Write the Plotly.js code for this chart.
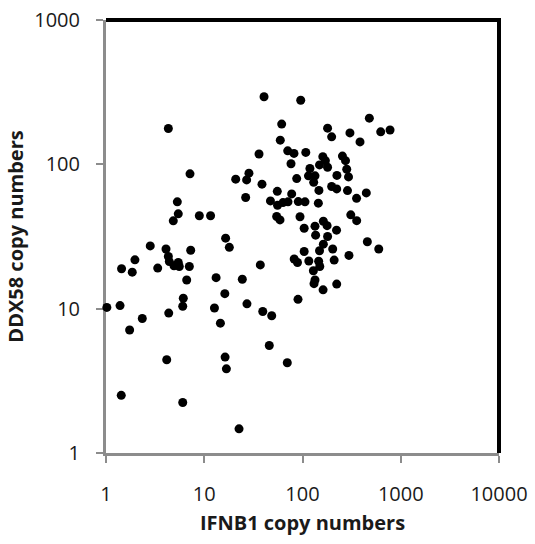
<!DOCTYPE html>
<html>
<head>
<meta charset="utf-8">
<script src="https://cdn.plot.ly/plotly-3.0.1.min.js"></script>
<style>
  html, body { margin: 0; padding: 0; background: #ffffff; }
  #chart { width: 535px; height: 544px; }
</style>
</head>
<body>
<div id="chart"></div>
<script>
// IFNB1 copy numbers (x) vs DDX58 copy numbers (y)
const ifnb1 = [
  4.31, 7.16, 20.9, 27.0, 28.5, 26.4, 5.32, 5.44, 4.84, 8.91,
  11.6, 16.5, 18.0, 2.82, 4.08, 4.31, 4.41, 4.92, 5.44, 5.57,
  7.28, 7.05, 1.97, 1.44, 1.85, 3.36, 6.63, 13.2, 24.4, 16.2,
  6.12, 6.04, 1.02, 1.39, 12.7, 27.2, 4.35, 2.34, 1.74, 14.6,
  4.15, 16.3, 16.8, 1.43, 6.04, 22.6, 36.1, 38.7, 40.6, 61.4,
  59.4, 55.4, 47.2, 55.7, 63.3, 71.2, 77.6, 90.6, 106, 54.6,
  59.0, 94.3, 104, 95.9, 70.7, 81.9, 108, 76.4, 87.3, 119,
  115, 134, 130, 161, 171, 149, 180, 255, 274, 282,
  294, 224, 147, 198, 223, 287, 180, 198, 304, 385,
  479, 625, 778, 145, 355, 446, 310, 356, 134, 163,
  178, 222, 136, 180, 457, 597, 163, 149, 203, 104,
  297, 82.3, 88.9, 116, 146, 210, 150, 129, 134, 131,
  223, 162, 90.0, 70.0, 45.9, 37.2, 39.4, 48.6
];
const ddx58 = [
  177, 85.9, 78.9, 78.0, 86.9, 58.9, 55.0, 45.4, 40.6, 44.0,
  44.0, 30.8, 26.6, 27.2, 25.9, 23.0, 21.2, 19.8, 20.9, 19.6,
  25.4, 19.6, 21.8, 18.9, 17.9, 19.1, 15.8, 16.4, 16.0, 12.7,
  11.8, 10.4, 10.2, 10.5, 10.1, 10.8, 9.32, 8.55, 7.11, 7.94,
  4.43, 4.62, 3.83, 2.51, 2.24, 1.47, 118, 72.9, 294, 190,
  147, 65.0, 55.8, 52.1, 54.3, 55.0, 62.4, 55.2, 55.0, 43.5,
  41.2, 43.3, 36.1, 278, 124, 119, 121, 101, 79.7, 93.5,
  83.2, 83.2, 75.0, 113, 106, 99.1, 95.5, 114, 106, 92.5,
  81.8, 83.8, 66.0, 70.2, 67.6, 65.8, 178, 155, 165, 143,
  209, 168, 173, 53.8, 58.1, 63.4, 44.7, 40.7, 37.3, 40.3,
  37.6, 35.0, 32.3, 31.6, 29.1, 25.9, 28.0, 25.2, 25.9, 24.9,
  23.4, 22.1, 20.9, 21.4, 21.3, 21.7, 19.6, 18.3, 15.8, 14.9,
  14.8, 13.5, 11.6, 4.22, 5.56, 20.1, 9.56, 8.93
];
const xTickVals = [1, 10, 100, 1000, 10000];
const xTickText = ["1", "10", "100", "1000", "10000"];
const yTickVals = [1, 10, 100, 1000];
const yTickText = ["1", "10", "100", "1000"];
const xTitle = "IFNB1 copy numbers";
const yTitle = "DDX58 copy numbers";

const tickFont = { family: "Open Sans, Lato, sans-serif", size: 20, color: "#1a1a1a" };
const titleFont = { family: "Open Sans, Lato, sans-serif", size: 20, color: "#1a1a1a", weight: "bold" };

const trace = {
  x: ifnb1,
  y: ddx58,
  type: "scatter",
  mode: "markers",
  marker: { color: "#000000", size: 9, line: { width: 0 } },
  hoverinfo: "skip",
  cliponaxis: false
};

const layout = {
  width: 535,
  height: 544,
  margin: { l: 106, r: 36, t: 20, b: 91, pad: 0 },
  paper_bgcolor: "#ffffff",
  plot_bgcolor: "#ffffff",
  showlegend: false,
  xaxis: {
    type: "log",
    range: [0, 4],
    tickvals: xTickVals,
    ticktext: xTickText,
    showgrid: false,
    zeroline: false,
    showline: true,
    linecolor: "#8c8c8c",
    linewidth: 3,
    ticks: "outside",
    ticklen: 7,
    tickwidth: 2,
    tickcolor: "#8c8c8c",
    tickfont: tickFont,
    ticklabelstandoff: 14,
    layer: "below traces",
    title: { text: xTitle, font: titleFont, standoff: 10 }
  },
  yaxis: {
    type: "log",
    range: [0, 3],
    tickvals: yTickVals,
    ticktext: yTickText,
    showgrid: false,
    zeroline: false,
    showline: true,
    linecolor: "#8c8c8c",
    linewidth: 3,
    ticks: "outside",
    ticklen: 7,
    tickwidth: 2,
    tickcolor: "#8c8c8c",
    tickfont: tickFont,
    ticklabelstandoff: 12,
    layer: "below traces",
    title: { text: yTitle, font: titleFont, standoff: 6 }
  },
  shapes: [
    {
      type: "path",
      xref: "paper",
      yref: "paper",
      path: "M 0,1 L 1,1 L 1,0",
      line: { color: "#000000", width: 4 },
      layer: "below"
    }
  ]
};

Plotly.newPlot("chart", [trace], layout, { displayModeBar: false, staticPlot: true });
</script>
</body>
</html>
